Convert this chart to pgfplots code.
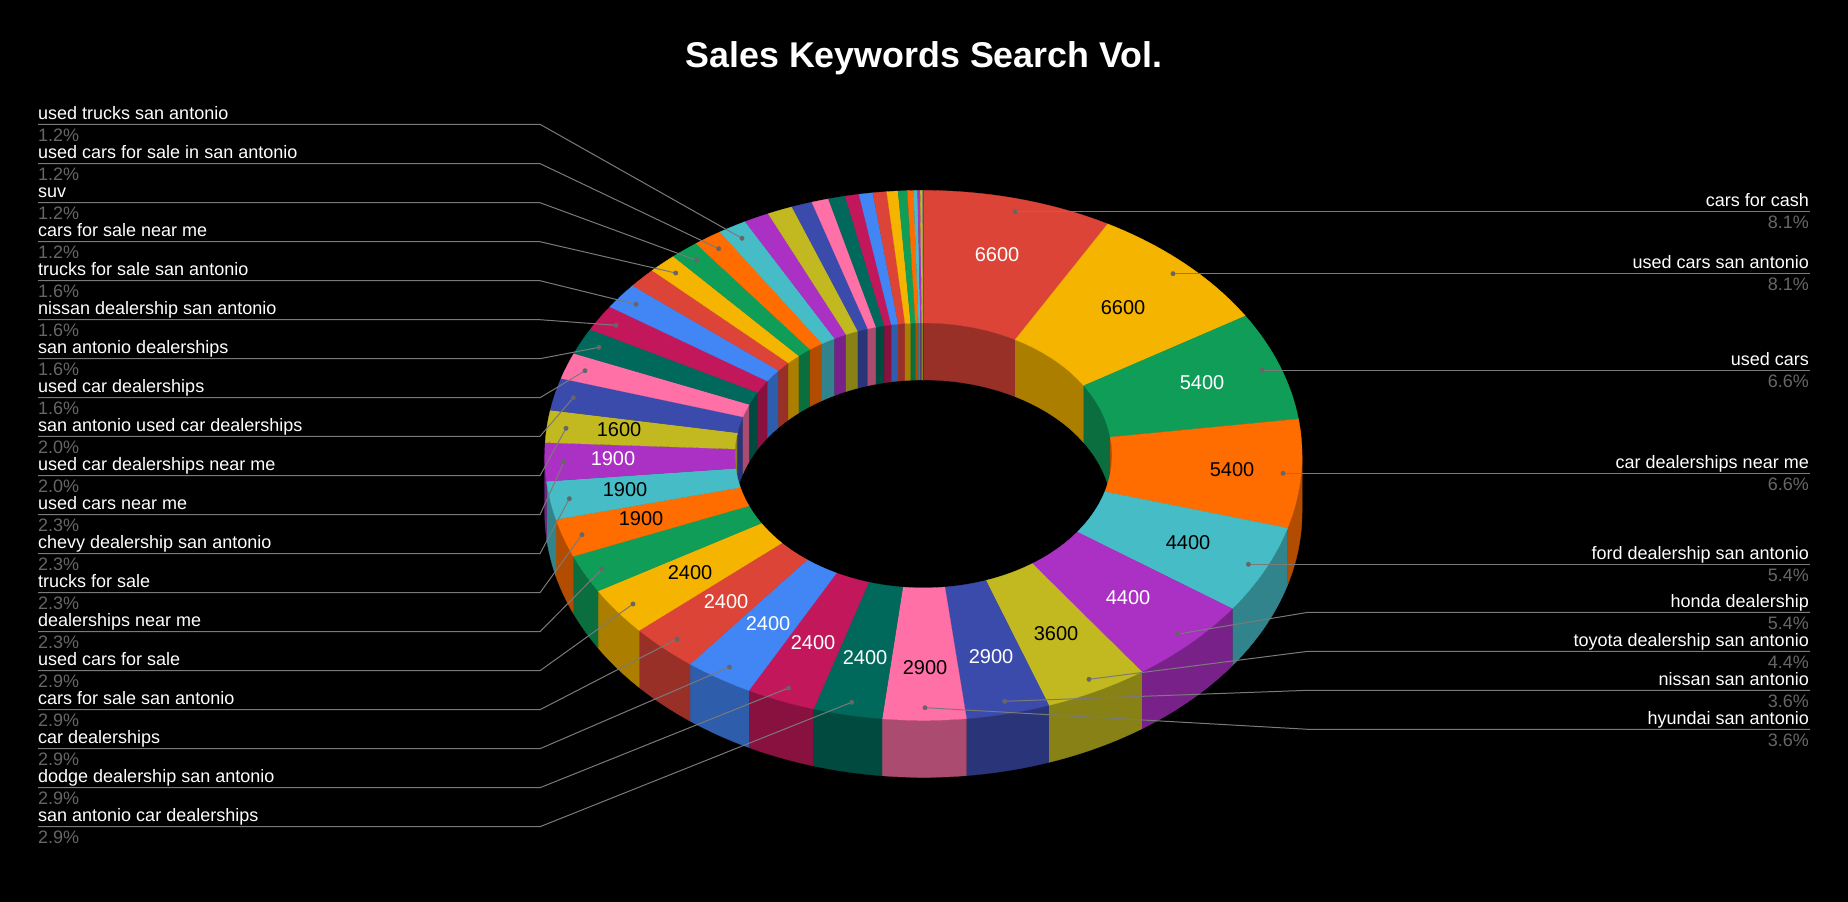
\documentclass[border=0pt]{standalone}
\usepackage{fontspec}
\setmainfont{Liberation Sans}
\usepackage{pgfplots}
\usepackage{pgfplotstable}
\pgfplotsset{compat=1.18}

\definecolor{c0}{HTML}{DB4437}
\definecolor{c1}{HTML}{F4B400}
\definecolor{c2}{HTML}{0F9D58}
\definecolor{c3}{HTML}{FF6D00}
\definecolor{c4}{HTML}{46BDC6}
\definecolor{c5}{HTML}{AB30C4}
\definecolor{c6}{HTML}{C2B920}
\definecolor{c7}{HTML}{3B4BAB}
\definecolor{c8}{HTML}{FF70A6}
\definecolor{c9}{HTML}{00695C}
\definecolor{c10}{HTML}{C2185B}
\definecolor{c11}{HTML}{4285F4}
\colorlet{w0}{c0!70!black}
\colorlet{w1}{c1!70!black}
\colorlet{w2}{c2!70!black}
\colorlet{w3}{c3!70!black}
\colorlet{w4}{c4!70!black}
\colorlet{w5}{c5!70!black}
\colorlet{w6}{c6!70!black}
\colorlet{w7}{c7!70!black}
\colorlet{w8}{c8!67!black}
\colorlet{w9}{c9!70!black}
\colorlet{w10}{c10!70!black}
\colorlet{w11}{c11!70!black}
\definecolor{leader}{HTML}{7A7A7A}
\definecolor{dotc}{HTML}{666666}
\definecolor{pctc}{HTML}{666666}

% search volume of each slice, clockwise from the top
\pgfplotstableread{
val
6600
6600
5400
5400
4400
4400
3600
2900
2900
2400
2400
2400
2400
2400
1900
1900
1900
1900
1600
1600
1300
1300
1300
1300
1000
1000
1000
1000
1000
880
880
720
590
590
480
480
480
390
320
210
140
90
90
20
}\slices
\def\perdeg{226.5556} % total 81560 / 360

% ring geometry in reference pixels
\def\cx{923.4}
\def\cy{455.4}
\def\Rx{378.7}
\def\Ry{265}
\def\rx{188.6}
\def\ry{132.5}
\def\depth{57}

\newcount\kk
\def\appendarc#1#2#3#4#5{%
  \pgfmathtruncatemacro\nn{max(1,ceil(abs(#2-#1)/1.5))}%
  \kk=0
  \loop
    \pgfmathsetmacro\ang{#1+(#2-#1)*\the\kk/\nn}%
    \pgfmathsetmacro\arcx{\cx+#3*sin(\ang)}%
    \pgfmathsetmacro\arcy{\cy-#4*cos(\ang)+#5}%
    \edef\coords{\coords (\arcx,\arcy)}%
    \advance\kk by 1
  \ifnum\kk<\numexpr\nn+1\relax
  \repeat
}
% a0 a1 | rx ry dy of the first edge | rx ry dy of the second edge | colour
\def\band#1#2#3#4#5#6#7#8#9{%
  \def\coords{}%
  \appendarc{#1}{#2}{#3}{#4}{#5}%
  \appendarc{#2}{#1}{#6}{#7}{#8}%
  \edef\tmp{\noexpand\addplot[fill=#9,draw=#9,line width=0.3pt,line join=round] coordinates {\coords} -- cycle;}%
  \tmp
}
\def\nextslice{%
  \pgfplotstablegetelem{\i}{val}\of\slices
  \pgfmathsetmacro\sa{\cum}%
  \pgfmathsetmacro\sb{\cum+\pgfplotsretval/\perdeg}%
  \let\cum\sb
  \pgfmathtruncatemacro\ci{mod(\i,12)}%
}
\def\wallif#1#2#3#4#5{% lo hi rx ry colour
  \ifdim#1pt<#2pt
    \band{#1}{#2}{#3}{#4}{0}{#3}{#4}{\depth}{#5}%
  \fi
}

\newcommand\leftlab[5]{%
  \addplot[leader,line width=1pt] coordinates {(38,#3)(540,#3)(#4,#5)};
  \addplot[only marks,mark=*,mark size=2.2pt,mark options={draw=dotc,fill=dotc}] coordinates {(#4,#5)};
  \node[lab,text=white,anchor=base west,yshift=5pt] at (axis cs:38,#3) {#1};
  \node[lab,text=pctc,anchor=base west,yshift=-16.7pt] at (axis cs:38,#3) {#2};
}
\newcommand\rightlab[6]{%
  \addplot[leader,line width=1pt] coordinates {(1810,#3)(#6,#3)(#4,#5)};
  \addplot[only marks,mark=*,mark size=2.2pt,mark options={draw=dotc,fill=dotc}] coordinates {(#4,#5)};
  \node[lab,text=white,anchor=base east,yshift=5pt] at (axis cs:1809,#3) {#1};
  \node[lab,text=pctc,anchor=base east,yshift=-16.7pt] at (axis cs:1809,#3) {#2};
}
\newcommand\vallab[4][black]{\node[text=#1,font=\fontsize{20}{24}\selectfont,inner sep=0pt] at (axis cs:#2,#3) {#4};}

\tikzset{lab/.style={font=\fontsize{18}{21}\selectfont,inner sep=0pt}}

\begin{document}
\begin{tikzpicture}
\begin{axis}[
  width=1848pt,height=902pt,scale only axis,
  xmin=0,xmax=1848,ymin=0,ymax=902,y dir=reverse,
  enlargelimits=false,hide axis,
]
\addplot[fill=black,draw=black] coordinates {(0,0)(1848,0)(1848,902)(0,902)} -- cycle;

% outer wall, front half only
\def\cum{0}
\pgfplotsforeachungrouped \i in {0,...,43}{%
  \nextslice
  \pgfmathsetmacro\lo{max(\sa,90)}%
  \pgfmathsetmacro\hi{min(\sb,270)}%
  \wallif{\lo}{\hi}{\Rx}{\Ry}{w\ci}%
}
% inner wall, back half only
\def\cum{0}
\pgfplotsforeachungrouped \i in {0,...,43}{%
  \nextslice
  \pgfmathsetmacro\hi{min(\sb,90)}%
  \wallif{\sa}{\hi}{\rx}{\ry}{w\ci}%
  \pgfmathsetmacro\lo{max(\sa,270)}%
  \wallif{\lo}{\sb}{\rx}{\ry}{w\ci}%
}
% top faces
\def\cum{0}
\pgfplotsforeachungrouped \i in {0,...,43}{%
  \nextslice
  \band{\sa}{\sb}{\Rx}{\Ry}{0}{\rx}{\ry}{0}{c\ci}%
}

\leftlab{used trucks san antonio}{1.2\%}{124.3}{742}{238.3}
\leftlab{used cars for sale in san antonio}{1.2\%}{163.6}{718.7}{248.7}
\leftlab{suv}{1.2\%}{202.7}{696.7}{260.3}
\leftlab{cars for sale near me}{1.2\%}{241.7}{675.7}{273}
\leftlab{trucks for sale san antonio}{1.6\%}{280.7}{636}{304.3}
\leftlab{nissan dealership san antonio}{1.6\%}{319.7}{616}{325.3}
\leftlab{san antonio dealerships}{1.6\%}{358.7}{599}{347.3}
\leftlab{used car dealerships}{1.6\%}{397.7}{585}{370.7}
\leftlab{san antonio used car dealerships}{2.0\%}{436.3}{573.3}{397.7}
\leftlab{used car dealerships near me}{2.0\%}{475.7}{566}{428.3}
\leftlab{used cars near me}{2.3\%}{514.7}{564}{462}
\leftlab{chevy dealership san antonio}{2.3\%}{553.7}{569.3}{498.7}
\leftlab{trucks for sale}{2.3\%}{592.7}{582}{534.7}
\leftlab{dealerships near me}{2.3\%}{631.7}{602}{569}
\leftlab{used cars for sale}{2.9\%}{670.7}{633}{604}
\leftlab{cars for sale san antonio}{2.9\%}{709.7}{677}{639}
\leftlab{car dealerships}{2.9\%}{748.7}{729.5}{667}
\leftlab{dodge dealership san antonio}{2.9\%}{787.7}{788.5}{688}
\leftlab{san antonio car dealerships}{2.9\%}{826.7}{851.7}{702.3}

\rightlab{cars for cash}{8.1\%}{211.7}{1015}{211.7}{1400}
\rightlab{used cars san antonio}{8.1\%}{273.7}{1173}{273.7}{1400}
\rightlab{used cars}{6.6\%}{370.3}{1262}{370.3}{1400}
\rightlab{car dealerships near me}{6.6\%}{473.3}{1283}{473.3}{1400}
\rightlab{ford dealership san antonio}{5.4\%}{564.3}{1248.4}{564.3}{1400}
\rightlab{honda dealership}{5.4\%}{612.3}{1178}{634}{1308}
\rightlab{toyota dealership san antonio}{4.4\%}{651.3}{1089}{679.3}{1308}
\rightlab{nissan san antonio}{3.6\%}{690.3}{1004.7}{701.3}{1308}
\rightlab{hyundai san antonio}{3.6\%}{729.3}{925}{707.7}{1308}

\vallab[white]{997}{255}{6600}
\vallab{1123}{308}{6600}
\vallab[white]{1202}{383}{5400}
\vallab{1232}{470}{5400}
\vallab{1188}{543}{4400}
\vallab[white]{1128}{598}{4400}
\vallab{1056}{634}{3600}
\vallab[white]{991}{657}{2900}
\vallab{925}{668}{2900}
\vallab[white]{865}{658}{2400}
\vallab[white]{813}{643}{2400}
\vallab[white]{768}{624}{2400}
\vallab[white]{726}{602}{2400}
\vallab{690}{573}{2400}
\vallab{641}{519}{1900}
\vallab{625}{490}{1900}
\vallab[white]{613}{459}{1900}
\vallab{619}{430}{1600}

\node[text=white,font=\fontsize{35.8}{42}\selectfont\bfseries,inner sep=0pt] at (axis cs:924,58) {Sales Keywords Search Vol.};
\end{axis}
\end{tikzpicture}
\end{document}
